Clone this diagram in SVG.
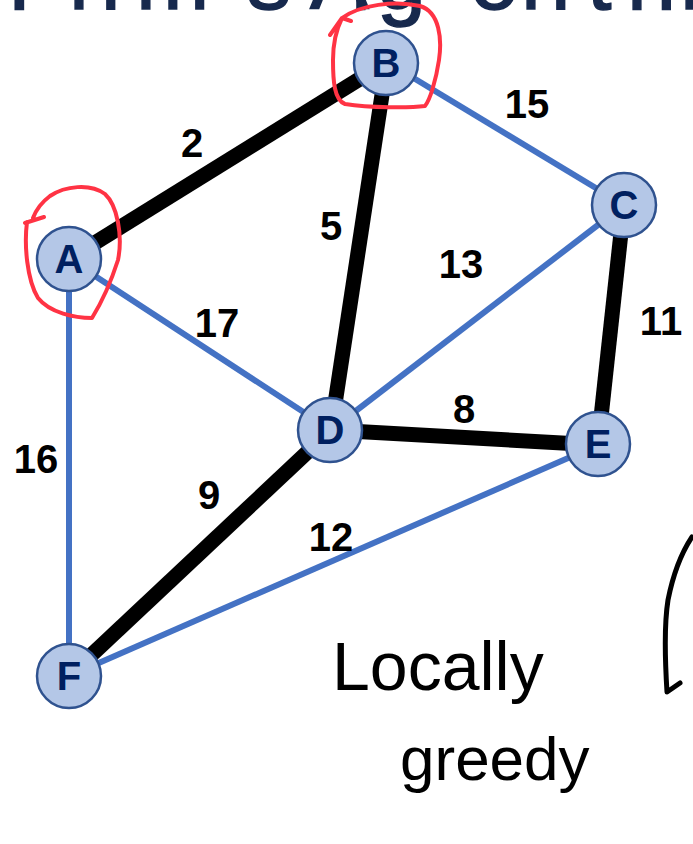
<svg xmlns="http://www.w3.org/2000/svg" width="693" height="844" viewBox="0 0 693 844">
<style>
.title{font-family:"Liberation Sans",Arial,sans-serif;font-size:88px;fill:#17294D;stroke:#17294D;stroke-width:1.5}
.blk{stroke:#000;stroke-width:15;stroke-linecap:butt}
.blu{stroke:#4472C4;stroke-width:6}
.node circle{fill:#B4C7E7;stroke:#2F528F;stroke-width:2.5}
.node text{font-family:"Liberation Sans",Arial,sans-serif;font-weight:bold;font-size:40px;fill:#002060;text-anchor:middle}
.lbl{font-family:"Liberation Sans",Arial,sans-serif;font-weight:bold;font-size:40px;fill:#000;text-anchor:middle}
.ink{fill:none;stroke:#FF3344;stroke-width:4;stroke-linecap:round;stroke-linejoin:round}
.hand{font-family:"Liberation Sans",Arial,sans-serif;fill:#000}
.pen{fill:none;stroke:#000;stroke-width:5;stroke-linecap:round;stroke-linejoin:round}
</style>
<rect width="693" height="844" fill="#fff"/>
<text class="title" x="8 69 101 136 228 247 285 310 351 377 470 521 551 587 627 680" y="9">Prim's Algorithm</text>
<g id="connectors">
<line class="blu" x1="69" y1="259" x2="331" y2="430"/>
<line class="blu" x1="69" y1="259" x2="69" y2="676"/>
<line class="blu" x1="387" y1="62" x2="624" y2="205"/>
<line class="blu" x1="624" y1="205" x2="331" y2="430"/>
<line class="blu" x1="69" y1="676" x2="598" y2="445"/>
<line class="blk" x1="69" y1="259" x2="387" y2="62"/>
<line class="blk" x1="387" y1="62" x2="331" y2="430"/>
<line class="blk" x1="624" y1="205" x2="598" y2="445"/>
<line class="blk" x1="331" y1="430" x2="598" y2="445"/>
<line class="blk" x1="331" y1="430" x2="69" y2="676"/>
</g>
<g id="edge-labels">
<text class="lbl" x="192" y="157">2</text>
<text class="lbl" x="527" y="118">15</text>
<text class="lbl" x="331" y="240">5</text>
<text class="lbl" x="461" y="278">13</text>
<text class="lbl" x="661" y="335">11</text>
<text class="lbl" x="217" y="337">17</text>
<text class="lbl" x="36" y="473">16</text>
<text class="lbl" x="464" y="423">8</text>
<text class="lbl" x="209" y="509">9</text>
<text class="lbl" x="331" y="551">12</text>
</g>
<g id="node-A" class="node"><circle cx="69" cy="259" r="32"/><text x="69" y="273">A</text></g>
<g id="node-B" class="node"><circle cx="386" cy="63" r="32"/><text x="386" y="77">B</text></g>
<g id="node-C" class="node"><circle cx="624" cy="205" r="32"/><text x="624" y="219">C</text></g>
<g id="node-D" class="node"><circle cx="330" cy="430" r="32"/><text x="330" y="444">D</text></g>
<g id="node-E" class="node"><circle cx="598" cy="444" r="32"/><text x="598" y="458">E</text></g>
<g id="node-F" class="node"><circle cx="69" cy="676" r="32"/><text x="69" y="690">F</text></g>
<g id="annotations">
<path class="ink" d="M25,223 L44,217 M33,218 C36,210 42,202 50,196 C65,186 90,183 105,194 C117,205 123,235 118,260 C110,285 100,305 92,318 C75,318 50,313 38,298 C27,280 24,245 27,222"/>
<path class="ink" d="M330,35 L342,18 L351,21 M342,18 C360,5 395,0 420,6 C440,12 442,40 439,60 C436,80 430,100 425,106 C410,108 370,108 345,104 C334,100 333,80 333,60 C333,45 336,30 342,18"/>
<text class="hand" x="332" y="690" font-size="68">Locally</text>
<text class="hand" x="400" y="780" font-size="62">greedy</text>
<path class="pen" d="M692,537 C682,552 673,575 668,600 C664,625 665,660 667,692 L680,683"/>
</g>
</svg>
